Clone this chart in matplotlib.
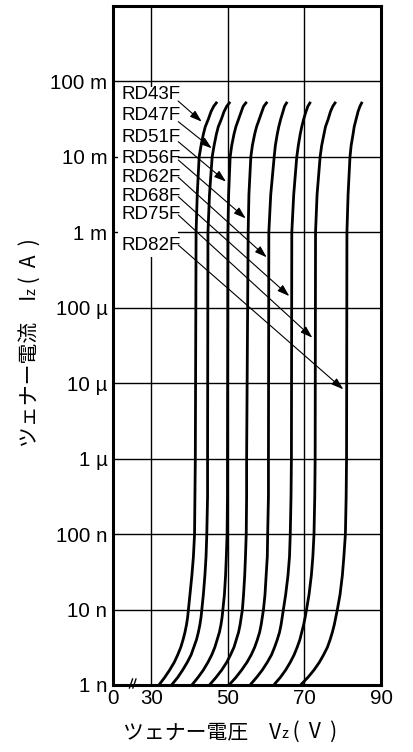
import matplotlib
matplotlib.use('Agg')
import matplotlib.pyplot as plt
from matplotlib.transforms import IdentityTransform, blended_transform_factory
from matplotlib.patches import Rectangle

# ---------------- data ----------------
current_a = [1e-9, 1.26e-9, 1.58e-9, 2.0e-9, 2.51e-9, 3.16e-9, 3.98e-9, 5.01e-9,
             6.31e-9, 7.94e-9, 1e-8, 1.58e-8, 2.82e-8, 5.01e-8, 1e-7, 3.16e-7,
             1e-6, 1e-3, 3.16e-3, 1e-2, 1.41e-2, 2.0e-2, 2.51e-2, 3.16e-2,
             3.98e-2, 4.68e-2, 5.37e-2]

models = ['RD43F', 'RD47F', 'RD51F', 'RD56F', 'RD62F', 'RD68F', 'RD75F', 'RD82F']

vz_rd43f = [32.0, 33.5, 34.8, 36.0, 36.9, 37.7, 38.3, 38.8, 39.2, 39.5, 39.7,
            40.1, 40.6, 41.0, 41.3, 41.4, 41.5, 41.7, 42.0, 42.5,
            43.0, 43.6, 44.1, 44.9, 45.6, 46.3, 47.2]
vz_rd47f = [35.3, 36.9, 38.2, 39.4, 40.4, 41.1, 41.8, 42.3, 42.7, 43.0, 43.2,
            43.6, 44.0, 44.3, 44.5, 44.7, 44.7, 44.8, 45.2, 45.9,
            46.4, 47.0, 47.5, 48.3, 49.0, 49.7, 50.6]
vz_rd51f = [40.6, 42.2, 43.6, 44.8, 45.8, 46.6, 47.2, 47.8, 48.2, 48.5, 48.7,
            49.1, 49.4, 49.6, 49.8, 49.9, 49.9, 50.0, 50.2, 50.6,
            51.0, 51.6, 52.1, 52.8, 53.5, 54.0, 54.9]
vz_rd56f = [45.2, 46.9, 48.4, 49.7, 50.7, 51.6, 52.2, 52.8, 53.2, 53.5, 53.8,
            54.1, 54.4, 54.6, 54.8, 54.9, 54.9, 55.3, 55.5, 56.0,
            56.4, 57.0, 57.5, 58.2, 58.9, 59.4, 60.3]
vz_rd62f = [50.3, 52.1, 53.6, 55.0, 56.1, 57.0, 57.7, 58.3, 58.7, 59.0, 59.3,
            59.7, 60.0, 60.3, 60.4, 60.6, 60.6, 60.7, 61.2, 62.1,
            62.4, 62.9, 63.3, 63.8, 64.4, 64.8, 65.5]
vz_rd68f = [55.8, 57.5, 59.0, 60.3, 61.4, 62.2, 62.9, 63.5, 63.9, 64.2, 64.5,
            65.1, 65.7, 66.1, 66.3, 66.5, 66.6, 66.7, 67.2, 68.0,
            68.4, 68.9, 69.3, 69.8, 70.4, 70.9, 71.6]
vz_rd75f = [62.0, 63.7, 65.1, 66.3, 67.3, 68.1, 68.8, 69.3, 69.8, 70.2, 70.55,
            71.2, 71.8, 72.2, 72.5, 72.7, 72.8, 72.9, 73.3, 74.1,
            74.5, 75.1, 75.5, 76.2, 76.8, 77.4, 78.2]
vz_rd82f = [69.0, 70.9, 72.5, 73.9, 75.0, 76.0, 76.7, 77.3, 77.8, 78.2, 78.6,
            79.3, 79.9, 80.3, 80.7, 80.9, 81.0, 81.1, 81.4, 81.9,
            82.2, 82.7, 83.0, 83.5, 84.0, 84.5, 85.1]

curves = [vz_rd43f, vz_rd47f, vz_rd51f, vz_rd56f, vz_rd62f, vz_rd68f, vz_rd75f, vz_rd82f]

ytick_values = [1e-9, 1e-8, 1e-7, 1e-6, 1e-5, 1e-4, 1e-3, 1e-2, 1e-1]
ytick_labels = ['1 n', '10 n', '100 n', '1 µ', '10 µ', '100 µ', '1 m', '10 m', '100 m']
xtick_values = [20, 30, 50, 70, 90]
xtick_labels = ['0', '30', '50', '70', '90']
xgrid_values = [30, 50, 70]

# label positions (V, A) and arrow start/tip (V, A)
label_pos = [(22.1, 0.0671), (22.1, 0.0351), (22.1, 0.0181), (22.1, 0.0096),
             (22.1, 0.00533), (22.1, 0.00297), (22.1, 0.0017), (22.1, 6.79e-4)]
arrow_start = [(37.0, 0.0551), (37.05, 0.0293), (37.05, 0.0159), (37.05, 0.0091),
               (37.05, 0.00537), (37.05, 0.00297), (37.05, 0.0017), (37.05, 6.79e-4)]
arrow_tip = [(43.17, 0.0293), (45.78, 0.0130), (49.51, 0.00470), (54.66, 0.00153),
             (60.14, 4.67e-4), (66.04, 1.43e-4), (72.05, 4.02e-5), (80.15, 8.3e-6)]

# ---------------- figure ----------------
FAM = ['Liberation Sans', 'DejaVu Sans']
FAM_CJK = ['Noto Sans CJK JP', 'DejaVu Sans']

W, H = 413, 752
fig = plt.figure(figsize=(W / 100, H / 100), dpi=100)
fig.patch.set_facecolor('white')
ax = fig.add_axes([113 / W, 67 / H, 268 / W, 679 / H])

ax.set_yscale('log')
ax.set_xlim(20, 90)
ax.set_ylim(1e-9, 1)

# grid
for v in xgrid_values:
    ax.axvline(v, color='black', lw=1.0, zorder=1)
for yv in ytick_values[1:]:
    ax.axhline(yv, color='black', lw=1.0, zorder=1)

# curves
for v in curves:
    ax.plot(v, current_a, color='black', lw=2.0, solid_capstyle='butt',
            solid_joinstyle='round', zorder=3)

# white box behind labels
ax.add_patch(Rectangle((21.3, 4.7e-4), 37.0 - 21.3, 0.0845 - 4.7e-4,
                       facecolor='white', edgecolor='none', zorder=2))

for name, (lx, ly), s, t in zip(models, label_pos, arrow_start, arrow_tip):
    ax.text(lx, ly, name, ha='left', va='center', fontsize=13.5, family=FAM, zorder=5)
    ax.annotate('', xy=t, xytext=s,
                arrowprops=dict(arrowstyle='-|>,head_length=0.6,head_width=0.2',
                                lw=0.8, color='black', mutation_scale=12,
                                shrinkA=0, shrinkB=0), zorder=5)

# ticks
ax.set_yticks(ytick_values)
ax.set_yticklabels(ytick_labels)
ax.yaxis.set_minor_locator(matplotlib.ticker.NullLocator())
ax.set_xticks(xtick_values)
ax.set_xticklabels(xtick_labels)
ax.tick_params(axis='both', length=0, labelsize=14.8)
ax.tick_params(axis='y', pad=4)
ax.tick_params(axis='x', pad=3)
for lab in ax.get_xticklabels() + ax.get_yticklabels():
    lab.set_family(FAM)

for sp in ax.spines.values():
    sp.set_linewidth(2.2)
    sp.set_zorder(6)

# axis break marks on the bottom axis
bt = blended_transform_factory(ax.transData, ax.transAxes)
for x0, x1 in [(24.3, 25.1), (25.2, 26.0)]:
    ax.plot([x0, x1], [-0.0044, 0.0088], color='black', lw=1.0, transform=bt,
            clip_on=False, zorder=7)


def chain_text(cx, cy, pieces, rotation=0):
    r = fig.canvas.get_renderer()
    lengths = []
    for s, fs in pieces:
        tt = fig.text(0, 0, s, fontsize=fs, family=FAM_CJK)
        lengths.append(tt.get_window_extent(r).width)
        tt.remove()
    total = sum(lengths)
    pos = -total / 2
    for (s, fs), L in zip(pieces, lengths):
        if rotation == 0:
            x, y = cx + pos, cy
        else:
            x, y = cx, cy + pos
        fig.text(x, y, s, fontsize=fs, family=FAM_CJK, rotation=rotation,
                 rotation_mode='anchor', ha='left', va='baseline',
                 transform=IdentityTransform())
        pos += L


fig.canvas.draw()
chain_text(230, H - 738, [('ツェナー電圧　V', 15), ('z', 10.5), (' (  V  )', 15)])
chain_text(35.5, H - 343, [('ツェナー電流　I', 15), ('z', 10.5), (' (  A  )', 15)], rotation=90)

fig.savefig('out.png', dpi=100)
